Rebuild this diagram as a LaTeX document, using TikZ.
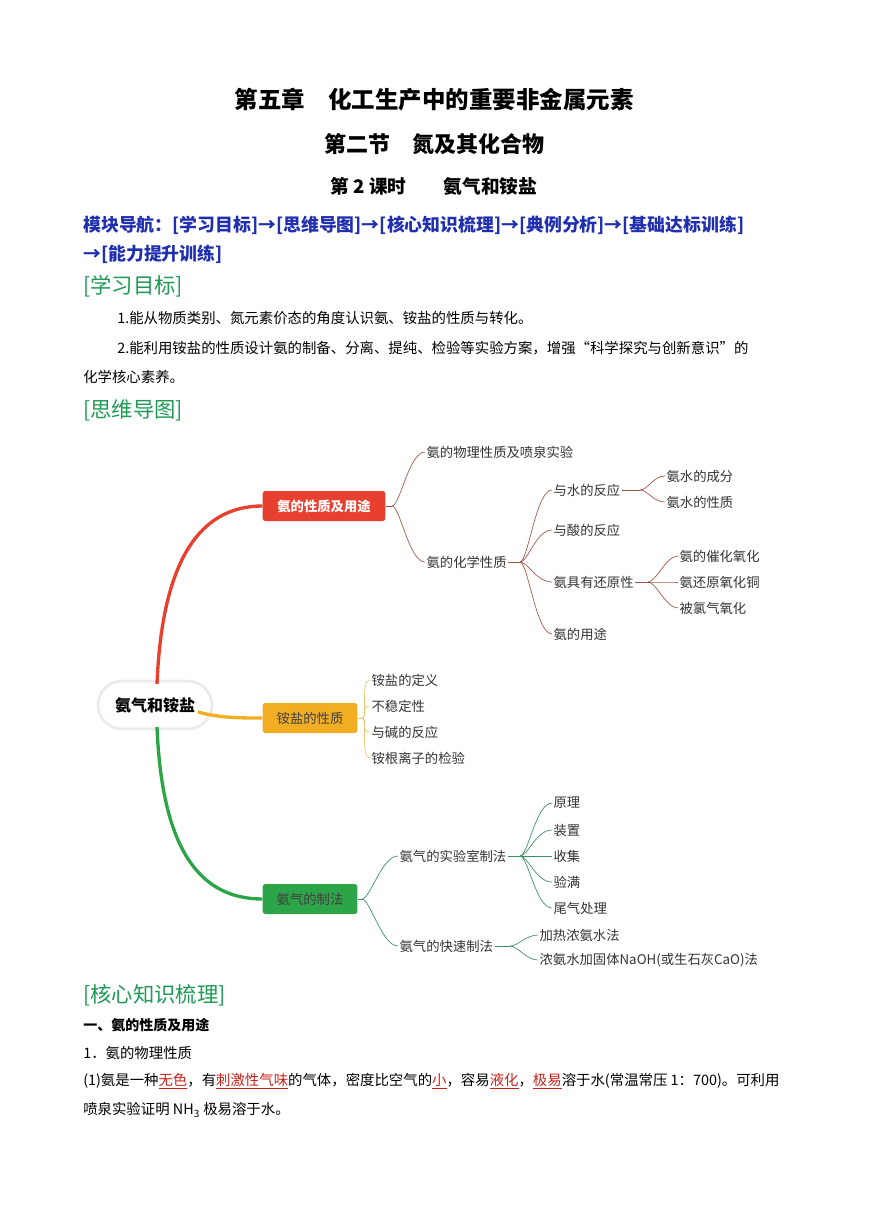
\documentclass[tikz,border=0pt]{standalone}
\usepackage{fontspec}
\setmainfont{Noto Sans CJK SC}
\usetikzlibrary{shapes.misc}
\definecolor{navblue}{HTML}{1F2FB0}
\definecolor{hgreen}{HTML}{1E9A55}
\definecolor{mred}{HTML}{E8402F}
\definecolor{mora}{HTML}{F2AE22}
\definecolor{mgrn}{HTML}{2CA548}
\definecolor{lred}{HTML}{A05545}
\definecolor{lora}{HTML}{E9C36E}
\definecolor{lgrn}{HTML}{3D8E63}
\definecolor{ured}{HTML}{C8241C}
\tikzset{
 txt/.style={anchor=west,inner sep=0pt,font=\fontsize{10.8pt}{12pt}\selectfont},
 mm/.style={anchor=west,inner sep=1pt,font=\fontsize{10pt}{11pt}\selectfont,text=black!80},
 mbox/.style={rounded corners=2pt,inner sep=0pt,minimum height=22.5pt,font=\fontsize{10pt}{11pt}\selectfont},
 hd/.style={anchor=west,inner sep=0pt,font=\fontsize{16pt}{18pt}\selectfont,text=hgreen},
 rl/.style={draw=lred,line width=0.5pt},
 ol/.style={draw=lora,line width=0.5pt},
 gl/.style={draw=lgrn,line width=0.5pt},
}
\newcommand{\uw}[1]{\textcolor{ured}{\underline{#1}}}
\begin{document}
\begin{tikzpicture}[x=0.75pt,y=-0.75pt]
\useasboundingbox (0,0) rectangle (868,1227);
% titles
\node[inner sep=0pt,font=\bfseries\fontsize{17.6pt}{19pt}\selectfont] (t1) at (434,100) {第五章\quad 化工生产中的重要非金属元素};
\node[inner sep=0pt,font=\bfseries\fontsize{16.5pt}{18pt}\selectfont] (t2) at (434,144) {第二节\quad 氮及其化合物};
\node[inner sep=0pt,font=\bfseries\fontsize{14pt}{16pt}\selectfont] (t3) at (434,186) {第 2 课时\qquad 氨气和铵盐};
\node[txt,font=\bfseries\fontsize{13.4pt}{15pt}\selectfont,text=navblue] (nav1) at (83,225) {模块导航：[学习目标]→[思维导图]→[核心知识梳理]→[典例分析]→[基础达标训练]};
\node[txt,font=\bfseries\fontsize{13.4pt}{15pt}\selectfont,text=navblue] (nav2) at (83,254) {→[能力提升训练]};
\node[hd] (h1) at (83,286) {[学习目标]};
\node[txt] (g1) at (117,318) {1.能从物质类别、氮元素价态的角度认识氨、铵盐的性质与转化。};
\node[txt] (g2) at (117,348) {2.能利用铵盐的性质设计氨的制备、分离、提纯、检验等实验方案，增强“科学探究与创新意识”的};
\node[txt] (g3) at (83,377) {化学核心素养。};
\node[hd] (h2) at (83,410) {[思维导图]};
% mind map
\node[draw=black!8,line width=2pt,fill=white,rounded rectangle,minimum width=92pt,minimum height=36pt,font=\bfseries\fontsize{12pt}{14pt}\selectfont] (root) at (155,705) {氨气和铵盐};
\node[mbox,fill=mred,text=white,minimum width=92pt,font=\bfseries\fontsize{10pt}{11pt}\selectfont] (A) at (324,506) {氨的性质及用途};
\node[mbox,fill=mora,text=black!75,minimum width=71pt] (B) at (310,718) {铵盐的性质};
\node[mbox,fill=mgrn,text=black!75,minimum width=71pt] (C) at (310,899) {氨气的制法};
\draw[mred,line width=2.5pt] (157,684) .. controls (162,560) and (200,506) .. (A.west);
\draw[mora,line width=2.5pt] (198,712) .. controls (220,718) and (240,718) .. (B.west);
\draw[mgrn,line width=2.5pt] (157,727) .. controls (162,850) and (200,899) .. (C.west);
% red branch
\coordinate (sA) at (392,506);
\draw[rl] (A.east) -- (sA);
\node[mm] (A1) at (425,452) {氨的物理性质及喷泉实验};
\node[mm] (A2) at (425,562) {氨的化学性质};
\foreach \n in {A1,A2} \draw[rl] (sA) .. controls +(8,0) and +(-16,0) .. (\n.west);
\coordinate (sA2) at (520,562);
\draw[rl] (A2.east) -- (sA2);
\node[mm] (A21) at (552,490) {与水的反应};
\node[mm] (A22) at (552,530) {与酸的反应};
\node[mm] (A23) at (552,582) {氨具有还原性};
\node[mm] (A24) at (552,634) {氨的用途};
\foreach \n in {A21,A22,A23,A24} \draw[rl] (sA2) .. controls +(8,0) and +(-16,0) .. (\n.west);
\coordinate (sW) at (640,490);
\draw[rl] (A21.east) -- (sW);
\node[mm] (W1) at (665,476) {氨水的成分};
\node[mm] (W2) at (665,502) {氨水的性质};
\foreach \n in {W1,W2} \draw[rl] (sW) .. controls +(8,0) and +(-12,0) .. (\n.west);
\coordinate (sR) at (648,582);
\draw[rl] (A23.east) -- (sR);
\node[mm] (R1) at (678,556) {氨的催化氧化};
\node[mm] (R2) at (678,582) {氨还原氧化铜};
\node[mm] (R3) at (678,608) {被氯气氧化};
\foreach \n in {R1,R2,R3} \draw[rl] (sR) .. controls +(8,0) and +(-12,0) .. (\n.west);
% orange branch
\coordinate (sB) at (362,718);
\draw[ol] (B.east) -- (sB);
\node[mm] (B1) at (370,680) {铵盐的定义};
\node[mm] (B2) at (370,706) {不稳定性};
\node[mm] (B3) at (370,732) {与碱的反应};
\node[mm] (B4) at (370,758) {铵根离子的检验};
\foreach \n in {B1,B2,B3,B4} \draw[ol] (sB) .. controls +(6,0) and +(-10,0) .. (\n.west);
% green branch
\coordinate (sC) at (362,899);
\draw[gl] (C.east) -- (sC);
\node[mm] (C1) at (398,856) {氨气的实验室制法};
\node[mm] (C2) at (398,946) {氨气的快速制法};
\foreach \n in {C1,C2} \draw[gl] (sC) .. controls +(8,0) and +(-16,0) .. (\n.west);
\coordinate (sL) at (520,856);
\draw[gl] (C1.east) -- (sL);
\node[mm] (L1) at (552,803) {原理};
\node[mm] (L2) at (552,830) {装置};
\node[mm] (L3) at (552,856) {收集};
\node[mm] (L4) at (552,882) {验满};
\node[mm] (L5) at (552,908) {尾气处理};
\foreach \n in {L1,L2,L3,L4,L5} \draw[gl] (sL) .. controls +(8,0) and +(-16,0) .. (\n.west);
\coordinate (sF) at (510,946);
\draw[gl] (C2.east) -- (sF);
\node[mm] (F1) at (538,935) {加热浓氨水法};
\node[mm] (F2) at (538,960) {浓氨水加固体NaOH(或生石灰CaO)法};
\foreach \n in {F1,F2} \draw[gl] (sF) .. controls +(8,0) and +(-12,0) .. (\n.west);
% bottom text
\node[hd] (h3) at (83,995) {[核心知识梳理]};
\node[txt,font=\bfseries\fontsize{10.5pt}{12pt}\selectfont] (s1) at (83,1025) {一、氨的性质及用途};
\node[txt] (s2) at (83,1053) {1．氨的物理性质};
\node[txt] (s3) at (83,1081) {(1)氨是一种\uw{无色}，有\uw{刺激性气味}的气体，密度比空气的\uw{小}，容易\uw{液化}，\uw{极易}溶于水(常温常压 1：700)。可利用};
\node[txt] (s4) at (83,1110) {喷泉实验证明 NH\textsubscript{3} 极易溶于水。};
\end{tikzpicture}
\end{document}
